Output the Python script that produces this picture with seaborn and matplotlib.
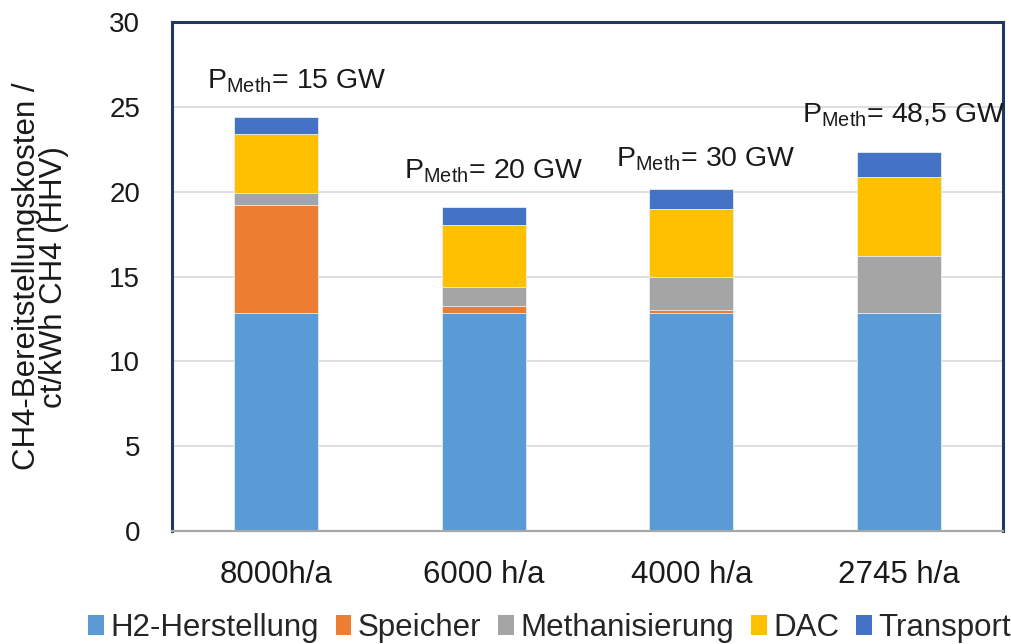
import numpy as np
import pandas as pd
import matplotlib
matplotlib.use("Agg")
import matplotlib.pyplot as plt
import seaborn as sns
from matplotlib.patches import Patch

# data
categories = ["8000h/a", "6000 h/a", "4000 h/a", "2745 h/a"]
h2 = [12.85, 12.85, 12.85, 12.85]
speicher = [6.37, 0.43, 0.20, 0.0]
methanisierung = [0.70, 1.10, 1.95, 3.35]
dac = [3.50, 3.65, 3.98, 4.68]
transport = [1.00, 1.07, 1.18, 1.45]
p_meth = ["15", "20", "30", "48,5"]

components = ["H2-Herstellung", "Speicher", "Methanisierung", "DAC", "Transport"]
colors = ["#5B9BD5", "#ED7D31", "#A5A5A5", "#FFC000", "#4472C4"]

# label positions (data coords)
label_x = [0.10, 1.05, 2.07, 3.02]
label_y = [26.5, 21.2, 21.9, 24.5]

sns.set_theme(style="white")
plt.rcParams["font.family"] = ["Liberation Sans", "DejaVu Sans"]

df = pd.DataFrame({"cat": categories, "H2-Herstellung": h2, "Speicher": speicher,
                   "Methanisierung": methanisierung, "DAC": dac, "Transport": transport})
cum = df[components].cumsum(axis=1)

fig = plt.figure(figsize=(10.12, 6.44), dpi=100)
ax = fig.add_axes([0.170, 0.1755, 0.821, 0.790])

# draw cumulative totals from top layer down
for comp, col in reversed(list(zip(components, colors))):
    sns.barplot(x=df["cat"], y=cum[comp], color=col, width=0.405, ax=ax,
                saturation=1, edgecolor="#E8EEF6", linewidth=0.6, zorder=2)

ax.set_ylim(0, 30)
ax.set_xlim(-0.5, 3.5)
ax.set_yticks(np.arange(0, 31, 5))
ax.yaxis.grid(True, color="#D9D9D9", linewidth=1.2, zorder=0)
ax.set_axisbelow(True)
ax.tick_params(axis="both", length=0, colors="#1a1a1a")
ax.tick_params(axis="y", pad=23, labelsize=20)
ax.tick_params(axis="x", pad=21, labelsize=22.5)
ax.set_xlabel("")
ax.set_ylabel("CH4-Bereitstellungskosten /\nct/kWh CH4 (HHV)", fontsize=22.5,
              color="#1a1a1a", linespacing=0.85)
ax.yaxis.set_label_coords(-0.124, 0.5)

for side in ["left", "top", "right"]:
    ax.spines[side].set_color("#1F3864")
    ax.spines[side].set_linewidth(2.2)
ax.spines["bottom"].set_color("#A6A6A6")
ax.spines["bottom"].set_linewidth(1.6)

for x, y, p in zip(label_x, label_y, p_meth):
    ax.text(x, y, r"P$_{\mathregular{Meth}}$= " + p + " GW", fontsize=20.5,
            ha="center", va="center", color="#1a1a1a")

handles = [Patch(facecolor=c, edgecolor="none") for c in colors]
fig.legend(handles, components, loc="lower center", bbox_to_anchor=(0.543, -0.042),
           ncol=5, frameon=False, fontsize=22.5, handlelength=0.5, handleheight=0.6,
           handletextpad=0.2, columnspacing=0.55)

fig.savefig("out.png", dpi=100)
